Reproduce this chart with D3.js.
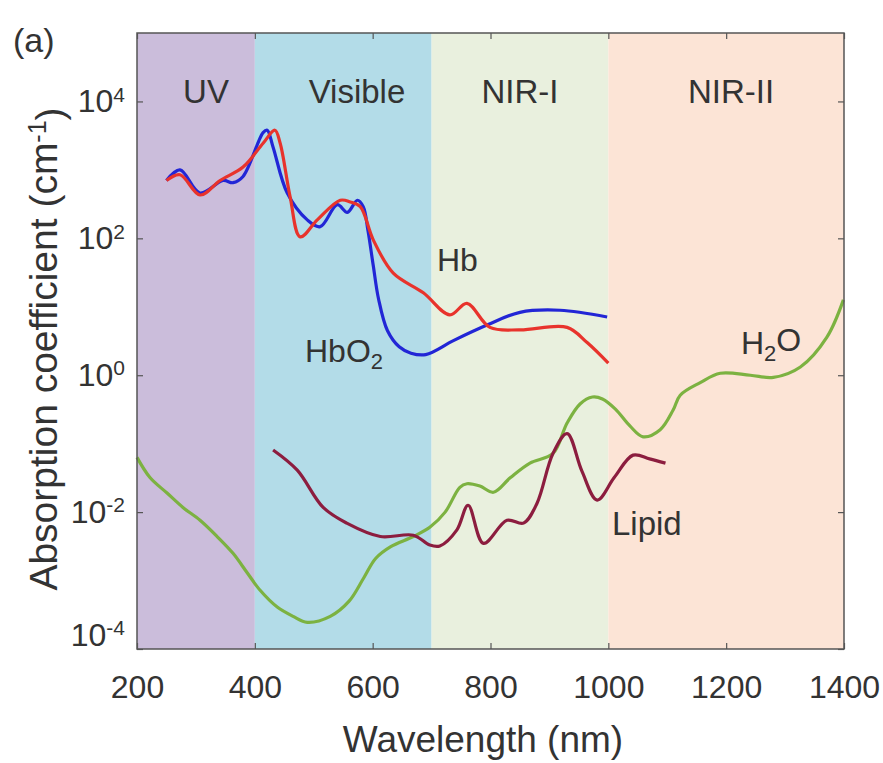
<!DOCTYPE html>
<html>
  <head>
    <meta charset="utf-8">
    <script src="https://d3js.org/d3.v7.min.js"></script>
    <style>
      body { margin: 0; background: #fff; }
      text { font-family: "Liberation Sans", Arial, sans-serif; fill: #333; }
    </style>
  </head>
<body>
<script>
// spectral bands (nm)
var bandNames = ["UV", "Visible", "NIR-I", "NIR-II"];
var bandStart = [200, 400, 700, 1000];
var bandEnd = [400, 700, 1000, 1400];
var bandColors = ["#cbbddb", "#b3dce8", "#e9f0de", "#fce4d6"];

// Hb (deoxy) - red
var hbNm  = [250, 273, 307, 341, 380, 414, 434, 443, 460, 477, 506, 545, 562, 579, 601, 635, 686, 731, 760, 799, 850, 930, 964, 1000];
var hbVal = [700, 850, 430, 700, 1100, 2450, 3800, 2450, 400, 105, 186, 360, 340, 290, 95, 31, 16, 7.6, 11.2, 5.0, 4.6, 5.0, 3.0, 1.5];

// HbO2 - blue
var hbo2Nm  = [250, 273, 307, 346, 363, 380, 414, 421, 431, 455, 489, 511, 540, 557, 574, 584, 592, 601, 610, 625, 645, 665, 690, 737, 794, 850, 918, 998];
var hbo2Val = [700, 1000, 460, 700, 650, 800, 3500, 3800, 2150, 460, 186, 148, 310, 240, 360, 290, 130, 40, 13, 4.5, 2.6, 2.1, 2.0, 3.2, 5.4, 8.3, 8.9, 7.1];

// water - green
var h2oNm  = [200, 222, 251, 278, 307, 336, 363, 387, 409, 438, 465, 489, 528, 560, 585, 605, 630, 669, 697, 723, 748, 760, 782, 805, 834, 867, 906, 930, 952, 973, 990, 1012, 1037, 1059, 1088, 1110, 1122, 1156, 1190, 1241, 1280, 1326, 1371, 1399];
var h2oVal = [0.063, 0.032, 0.019, 0.0117, 0.0076, 0.0044, 0.0025, 0.0013, 0.00072, 0.00041, 0.0003, 0.000245, 0.0003, 0.0005, 0.0011, 0.0021, 0.0031, 0.0044, 0.006, 0.01, 0.023, 0.026, 0.024, 0.0195, 0.032, 0.052, 0.072, 0.2, 0.38, 0.48, 0.45, 0.32, 0.18, 0.126, 0.16, 0.31, 0.51, 0.78, 1.07, 1.0, 0.93, 1.32, 3.6, 12.6];

// lipid - dark red
var lipidNm  = [431, 472, 516, 556, 613, 669, 697, 714, 743, 762, 788, 828, 856, 879, 906, 930, 955, 981, 1010, 1042, 1070, 1097];
var lipidVal = [0.081, 0.041, 0.0117, 0.0069, 0.0044, 0.0046, 0.0033, 0.0032, 0.0055, 0.0126, 0.0035, 0.0076, 0.0069, 0.0135, 0.072, 0.14, 0.04, 0.015, 0.032, 0.068, 0.06, 0.052];

var xTicks = [200, 400, 600, 800, 1000, 1200, 1400];
var yTicks = [1e-4, 1e-2, 1, 1e2, 1e4];

var W = 883, H = 763;
var pLeft = 137, pTop = 33, pRight = 844, pBottom = 649;

var svg = d3.select("body").append("svg")
  .attr("width", W).attr("height", H);

var x = d3.scaleLinear().domain([200, 1400]).range([pLeft, pRight]);
var y = d3.scaleLog().domain([1e-4, 1e5]).range([pBottom, pTop]);

// bands
bandNames.forEach(function (b, i) {
  svg.append("rect")
    .attr("x", x(bandStart[i])).attr("y", pTop)
    .attr("width", x(bandEnd[i]) - x(bandStart[i]))
    .attr("height", pBottom - pTop)
    .attr("fill", bandColors[i]);
});

var bandLabelX = [206, 357, 520, 731];
bandNames.forEach(function (b, i) {
  svg.append("text")
    .attr("x", bandLabelX[i]).attr("y", 103)
    .attr("text-anchor", "middle")
    .style("font-size", "33px")
    .text(b);
});

// curves
var line = d3.line()
  .x(function (d) { return x(d[0]); })
  .y(function (d) { return y(d[1]); })
  .curve(d3.curveCatmullRom.alpha(0.5));

function drawCurve(nm, val, color) {
  svg.append("path")
    .datum(d3.zip(nm, val))
    .attr("fill", "none")
    .attr("stroke", color)
    .attr("stroke-width", 3.2)
    .attr("stroke-linejoin", "round")
    .attr("d", line);
}
drawCurve(h2oNm, h2oVal, "#7cb241");
drawCurve(lipidNm, lipidVal, "#8c1d3f");
drawCurve(hbo2Nm, hbo2Val, "#2226d6");
drawCurve(hbNm, hbVal, "#e8332c");

// axes, ticks pointing inward
var gx = svg.append("g").attr("transform", "translate(0," + pBottom + ")")
  .call(d3.axisBottom(x).tickValues(xTicks).tickSize(-6).tickSizeOuter(0)
    .tickPadding(26).tickFormat(d3.format("d")));
svg.append("g").attr("transform", "translate(0," + pTop + ")")
  .call(d3.axisTop(x).tickValues(xTicks).tickSize(-6).tickSizeOuter(0).tickFormat(""));
var gy = svg.append("g").attr("transform", "translate(" + pLeft + ",0)")
  .call(d3.axisLeft(y).tickValues(yTicks).tickSize(-6).tickSizeOuter(0).tickPadding(12));
svg.append("g").attr("transform", "translate(" + pRight + ",0)")
  .call(d3.axisRight(y).tickValues(yTicks).tickSize(-6).tickSizeOuter(0).tickFormat(""));

svg.selectAll(".domain").remove();
svg.selectAll(".tick line").attr("stroke", "#555").attr("stroke-width", 1.2);

gx.selectAll("text").style("font-size", "32px").attr("fill", "#333");

gy.selectAll("text")
  .style("font-size", "32px").attr("fill", "#333")
  .each(function (d) {
    var t = d3.select(this);
    t.text("10");
    // bottom label sits a little above its tick, as in the figure
    if (d === 1e-4) t.attr("y", -14);
    t.append("tspan")
      .attr("dy", "-0.5em")
      .style("font-size", "21px")
      .text(Math.round(Math.log10(d)));
  });

// frame
svg.append("rect")
  .attr("x", pLeft).attr("y", pTop)
  .attr("width", pRight - pLeft).attr("height", pBottom - pTop)
  .attr("fill", "none").attr("stroke", "#555").attr("stroke-width", 1.5);

// axis titles
svg.append("text")
  .attr("x", 483).attr("y", 752)
  .attr("text-anchor", "middle")
  .style("font-size", "37px")
  .text("Wavelength (nm)");

var yt = svg.append("text")
  .attr("transform", "translate(57," + ((pTop + pBottom) / 2 + 8) + ") rotate(-90)")
  .attr("text-anchor", "middle")
  .style("font-size", "39px")
  .text("Absorption coefficient (cm");
yt.append("tspan").attr("dy", "-0.45em").style("font-size", "25px").text("-1");
yt.append("tspan").attr("dy", "0.45em").text(")");

// panel letter
svg.append("text").attr("x", 13).attr("y", 52).style("font-size", "34px").text("(a)");

// curve labels
svg.append("text").attr("x", 437).attr("y", 271).style("font-size", "32px").text("Hb");

var lb = svg.append("text").attr("x", 305).attr("y", 362).style("font-size", "32px").text("HbO");
lb.append("tspan").attr("dy", "0.3em").style("font-size", "22px").text("2");

var lw = svg.append("text").attr("x", 741).attr("y", 354).style("font-size", "32px").text("H");
lw.append("tspan").attr("dy", "0.3em").style("font-size", "22px").text("2");
lw.append("tspan").attr("dy", "-0.3em").text("O");

svg.append("text").attr("x", 612).attr("y", 535).style("font-size", "33px").text("Lipid");
</script>
</body>
</html>
